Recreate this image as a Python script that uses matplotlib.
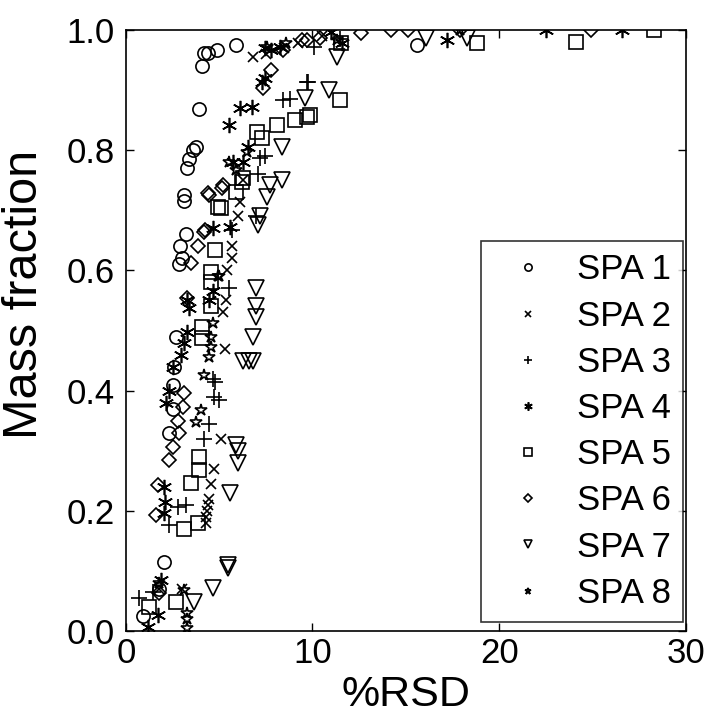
import matplotlib
matplotlib.use("Agg")
import matplotlib.pyplot as plt

plt.rcParams['font.family'] = ['Liberation Sans', 'DejaVu Sans']

spa1_x = [0.9, 1.8, 2.05, 2.3, 2.5, 2.5, 2.6, 2.7, 2.85, 3.0, 2.9, 3.2, 3.1, 3.1, 3.3, 3.4, 3.6, 3.75, 3.9, 4.1, 4.2, 4.4, 4.9, 5.9, 15.6]
spa1_y = [0.025, 0.07, 0.115, 0.33, 0.37, 0.41, 0.44, 0.49, 0.61, 0.62, 0.64, 0.66, 0.715, 0.725, 0.77, 0.785, 0.80, 0.805, 0.868, 0.94, 0.962, 0.962, 0.967, 0.975, 0.975]

spa2_x = [1.8, 3.0, 4.3, 4.3, 4.35, 4.4, 4.45, 4.55, 4.7, 5.1, 5.3, 5.2, 5.35, 5.4, 5.7, 5.7, 6.0, 6.1, 6.3, 6.8, 7.5, 8.5, 9.2, 10.5]
spa2_y = [0.07, 0.07, 0.18, 0.19, 0.20, 0.21, 0.22, 0.245, 0.27, 0.32, 0.47, 0.53, 0.55, 0.60, 0.62, 0.64, 0.69, 0.714, 0.75, 0.955, 0.96, 0.97, 0.978, 0.99]

spa3_x = [0.7, 1.45, 2.3, 2.8, 3.2, 4.2, 4.45, 4.7, 5.0, 4.8, 4.65, 5.55, 5.7, 7.0, 7.1, 7.2, 7.45, 8.4, 8.8, 9.7, 9.75, 10.1, 11.5]
spa3_y = [0.055, 0.065, 0.176, 0.206, 0.21, 0.32, 0.345, 0.39, 0.385, 0.415, 0.42, 0.57, 0.667, 0.69, 0.76, 0.787, 0.79, 0.883, 0.885, 0.913, 0.913, 0.972, 0.985]

spa4_x = [1.2, 1.7, 1.9, 2.05, 2.1, 2.05, 2.15, 2.3, 2.5, 2.95, 3.1, 3.3, 3.4, 3.3, 4.45, 4.65, 4.65, 5.6, 5.75, 6.3, 6.55, 5.55, 6.1, 6.75, 7.3, 7.45, 7.45, 7.8, 8.25, 11.0, 11.6, 17.2, 22.5, 26.6]
spa4_y = [0.007, 0.027, 0.085, 0.196, 0.215, 0.24, 0.38, 0.40, 0.44, 0.46, 0.48, 0.497, 0.537, 0.55, 0.55, 0.565, 0.67, 0.672, 0.78, 0.78, 0.805, 0.842, 0.87, 0.872, 0.913, 0.92, 0.97, 0.967, 0.972, 0.996, 0.978, 0.983, 1.0, 1.0]

spa5_x = [1.25, 2.7, 3.1, 3.85, 3.5, 3.9, 3.9, 4.1, 4.1, 4.55, 4.55, 4.55, 4.8, 4.95, 5.1, 5.9, 6.2, 6.3, 7.05, 7.3, 8.1, 9.05, 9.7, 9.85, 11.5, 11.55, 18.8, 24.1, 28.3]
spa5_y = [0.04, 0.048, 0.17, 0.18, 0.246, 0.268, 0.29, 0.488, 0.506, 0.54, 0.58, 0.597, 0.634, 0.706, 0.704, 0.73, 0.747, 0.754, 0.83, 0.82, 0.842, 0.85, 0.855, 0.859, 0.883, 0.978, 0.978, 0.98, 1.0]

spa6_x = [1.75, 1.6, 1.7, 2.3, 2.55, 2.85, 2.8, 3.05, 3.1, 3.3, 3.5, 3.85, 4.2, 4.25, 4.45, 4.4, 5.15, 5.2, 7.35, 7.8, 8.4, 9.45, 9.7, 10.4, 12.6, 14.2, 15.1, 17.9, 24.9]
spa6_y = [0.063, 0.193, 0.243, 0.285, 0.306, 0.33, 0.35, 0.373, 0.396, 0.554, 0.612, 0.64, 0.664, 0.667, 0.725, 0.728, 0.737, 0.742, 0.903, 0.933, 0.967, 0.983, 0.983, 0.986, 0.995, 1.0, 1.0, 1.0, 1.0]

spa7_x = [3.65, 4.65, 5.45, 5.45, 5.6, 6.0, 6.0, 5.9, 6.3, 6.6, 6.8, 6.8, 7.0, 7.0, 7.0, 7.1, 7.2, 7.55, 7.7, 8.35, 8.35, 9.6, 10.9, 11.3, 16.1, 18.3]
spa7_y = [0.048, 0.071, 0.105, 0.11, 0.23, 0.28, 0.30, 0.31, 0.45, 0.45, 0.45, 0.49, 0.523, 0.54, 0.57, 0.675, 0.69, 0.722, 0.742, 0.75, 0.805, 0.887, 0.9, 0.955, 0.986, 0.986]

spa8_x = [1.8, 3.1, 3.3, 3.3, 3.3, 3.75, 4.0, 4.2, 4.45, 4.55, 4.55, 4.65, 4.95, 5.0, 5.5, 5.9, 6.5, 7.55, 8.6, 11.3, 17.9]
spa8_y = [0.08, 0.068, 0.005, 0.02, 0.03, 0.348, 0.368, 0.426, 0.456, 0.473, 0.49, 0.512, 0.59, 0.59, 0.78, 0.767, 0.797, 0.972, 0.978, 0.983, 1.0]

labels = ['SPA 1', 'SPA 2', 'SPA 3', 'SPA 4', 'SPA 5', 'SPA 6', 'SPA 7', 'SPA 8']
xticks = [0, 10, 20, 30]
yticks = [0.0, 0.2, 0.4, 0.6, 0.8, 1.0]

series = [(spa1_x, spa1_y), (spa2_x, spa2_y), (spa3_x, spa3_y), (spa4_x, spa4_y),
          (spa5_x, spa5_y), (spa6_x, spa6_y), (spa7_x, spa7_y), (spa8_x, spa8_y)]
markers = ['o', 'x', '+', (6, 2, 0), 's', 'D', 'v', '*']
msizes = [9.5, 7, 11, 11, 10, 7, 11, 9]

fig = plt.figure(figsize=(7.07, 7.15), dpi=100)
ax = fig.add_axes([0.178, 0.1175, 0.792, 0.8405])

for (xs, ys), m, ms, lab in zip(series, markers, msizes, labels):
    ax.plot(xs, ys, linestyle='none', marker=m, markersize=ms,
            markerfacecolor='none', markeredgecolor='k', color='k',
            markeredgewidth=1.2, label=lab)

ax.set_xlim(0, 30)
ax.set_ylim(0, 1.0)
ax.set_xticks(xticks)
ax.set_xticklabels([str(t) for t in xticks])
ax.set_yticks(yticks)
ax.set_yticklabels([f"{t:.1f}" for t in yticks])
ax.tick_params(direction='in', top=True, right=True, length=6, width=1,
               labelsize=25)
ax.tick_params(axis='x', pad=4)
ax.tick_params(axis='y', pad=8)
for s in ax.spines.values():
    s.set_linewidth(1.2)
ax.set_xlabel('%RSD', fontsize=31, labelpad=4)
ax.set_ylabel('Mass fraction', fontsize=35)
ax.yaxis.set_label_coords(-0.14, 0.56)

leg = ax.legend(loc='lower right', bbox_to_anchor=(0.995, 0.015), borderaxespad=0,
                fontsize=25, markerscale=0.55, frameon=True, fancybox=False,
                edgecolor='k', labelspacing=0.38, handlelength=2.0,
                handletextpad=0.4, borderpad=0.35)
leg.get_frame().set_linewidth(1.2)

fig.savefig('out.png', dpi=100)
